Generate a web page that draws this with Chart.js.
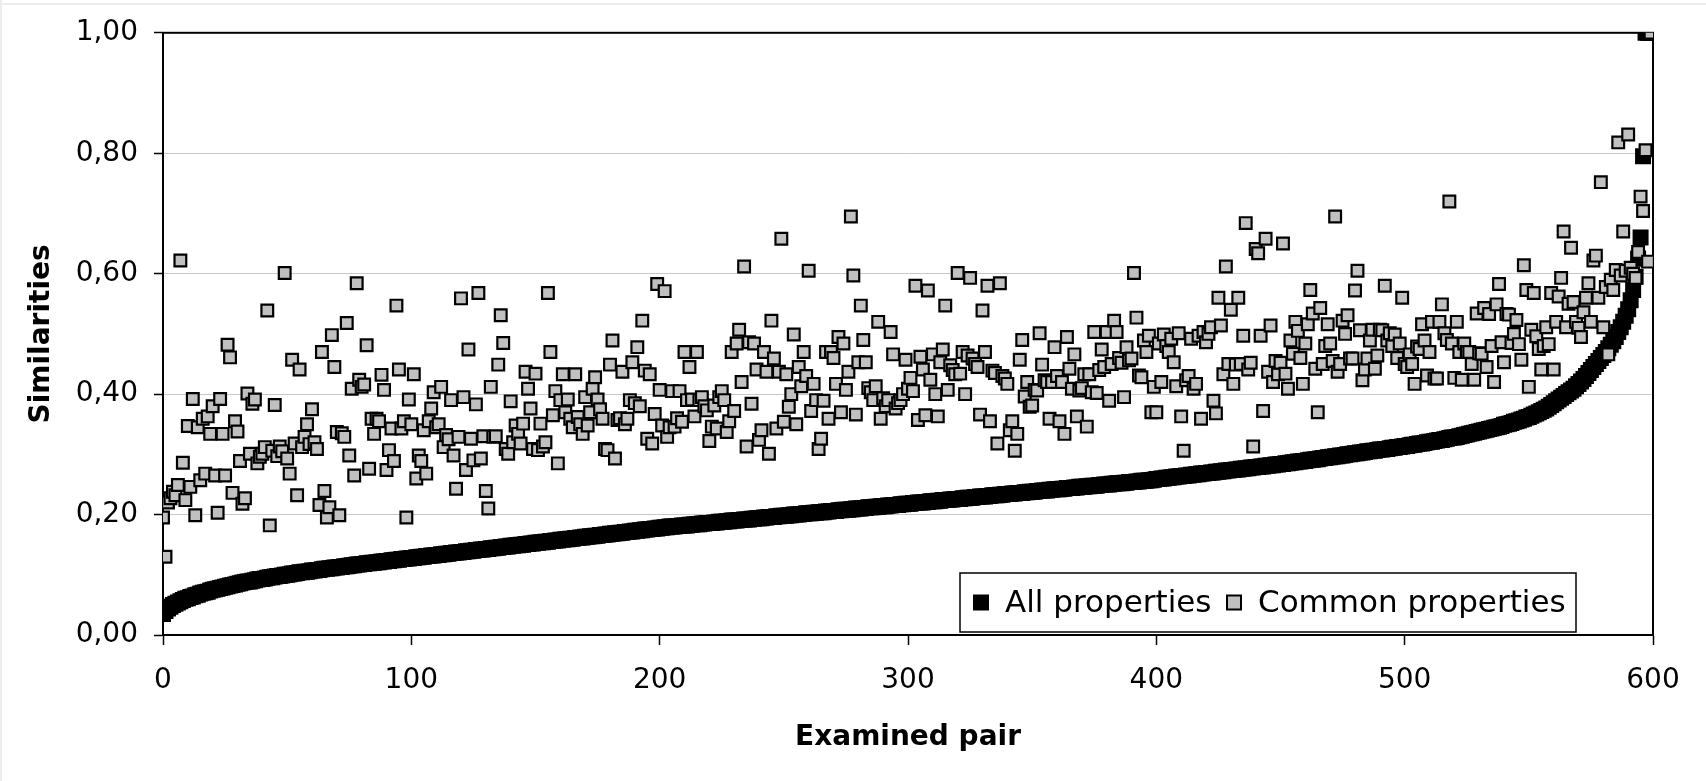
<!DOCTYPE html>
<html lang="en">
<head>
<meta charset="UTF-8" />
<title>Similarities per examined pair</title>
<style>
  body { margin: 0; background: #fff; }
  #wrap { width: 1706px; height: 781px; }
</style>
</head>
<body>
<div id="wrap"><canvas id="simChart" width="1706" height="781"></canvas></div>
<script src="https://cdn.jsdelivr.net/npm/chart.js"></script>
<script>
const seriesNames = ["All properties", "Common properties"];
const xTicks = [0, 100, 200, 300, 400, 500, 600];
const yTicks = [0, 0.2, 0.4, 0.6, 0.8, 1.0];

// similarity over all properties, one value per examined pair (sorted)
const allProps = [
  0.035, 0.040, 0.044, 0.047, 0.050, 0.052, 0.054, 0.056, 0.058, 0.060,
  0.061, 0.063, 0.064, 0.066, 0.067, 0.069, 0.070, 0.071, 0.072, 0.074,
  0.075, 0.076, 0.077, 0.078, 0.079, 0.080, 0.081, 0.082, 0.083, 0.084,
  0.085, 0.086, 0.087, 0.088, 0.089, 0.089, 0.090, 0.091, 0.092, 0.093,
  0.093, 0.094, 0.095, 0.096, 0.096, 0.097, 0.098, 0.098, 0.099, 0.100,
  0.100, 0.101, 0.102, 0.102, 0.103, 0.104, 0.104, 0.105, 0.105, 0.106,
  0.107, 0.107, 0.108, 0.108, 0.109, 0.110, 0.110, 0.111, 0.111, 0.112,
  0.112, 0.113, 0.113, 0.114, 0.114, 0.115, 0.116, 0.116, 0.117, 0.117,
  0.118, 0.118, 0.119, 0.119, 0.120, 0.120, 0.121, 0.121, 0.122, 0.122,
  0.123, 0.123, 0.124, 0.124, 0.125, 0.125, 0.126, 0.126, 0.127, 0.127,
  0.128, 0.128, 0.129, 0.129, 0.130, 0.130, 0.131, 0.131, 0.132, 0.132,
  0.133, 0.133, 0.134, 0.134, 0.135, 0.135, 0.136, 0.136, 0.137, 0.137,
  0.138, 0.138, 0.139, 0.139, 0.140, 0.140, 0.141, 0.141, 0.142, 0.142,
  0.143, 0.143, 0.144, 0.144, 0.145, 0.145, 0.146, 0.146, 0.147, 0.147,
  0.148, 0.148, 0.149, 0.149, 0.150, 0.150, 0.151, 0.151, 0.152, 0.152,
  0.153, 0.153, 0.154, 0.154, 0.155, 0.155, 0.156, 0.156, 0.157, 0.157,
  0.158, 0.158, 0.159, 0.159, 0.160, 0.160, 0.161, 0.161, 0.162, 0.162,
  0.163, 0.163, 0.164, 0.164, 0.165, 0.165, 0.166, 0.166, 0.167, 0.167,
  0.168, 0.168, 0.169, 0.169, 0.170, 0.170, 0.171, 0.171, 0.172, 0.172,
  0.173, 0.173, 0.174, 0.174, 0.175, 0.175, 0.176, 0.176, 0.177, 0.177,
  0.178, 0.178, 0.179, 0.179, 0.180, 0.180, 0.180, 0.181, 0.181, 0.182,
  0.182, 0.182, 0.183, 0.183, 0.184, 0.184, 0.184, 0.185, 0.185, 0.186,
  0.186, 0.186, 0.187, 0.187, 0.188, 0.188, 0.188, 0.189, 0.189, 0.190,
  0.190, 0.190, 0.191, 0.191, 0.192, 0.192, 0.192, 0.193, 0.193, 0.194,
  0.194, 0.194, 0.195, 0.195, 0.196, 0.196, 0.196, 0.197, 0.197, 0.198,
  0.198, 0.198, 0.199, 0.199, 0.200, 0.200, 0.200, 0.201, 0.201, 0.202,
  0.202, 0.202, 0.203, 0.203, 0.204, 0.204, 0.204, 0.205, 0.205, 0.206,
  0.206, 0.206, 0.207, 0.207, 0.208, 0.208, 0.208, 0.209, 0.209, 0.210,
  0.210, 0.210, 0.211, 0.211, 0.212, 0.212, 0.212, 0.213, 0.213, 0.214,
  0.214, 0.214, 0.215, 0.215, 0.216, 0.216, 0.216, 0.217, 0.217, 0.218,
  0.218, 0.218, 0.219, 0.219, 0.220, 0.220, 0.220, 0.221, 0.221, 0.222,
  0.222, 0.222, 0.223, 0.223, 0.224, 0.224, 0.224, 0.225, 0.225, 0.226,
  0.226, 0.226, 0.227, 0.227, 0.228, 0.228, 0.228, 0.229, 0.229, 0.230,
  0.230, 0.230, 0.231, 0.231, 0.232, 0.232, 0.232, 0.233, 0.233, 0.234,
  0.234, 0.234, 0.235, 0.235, 0.236, 0.236, 0.236, 0.237, 0.237, 0.238,
  0.238, 0.238, 0.239, 0.239, 0.240, 0.240, 0.240, 0.241, 0.241, 0.242,
  0.242, 0.242, 0.243, 0.243, 0.244, 0.244, 0.244, 0.245, 0.245, 0.246,
  0.246, 0.246, 0.247, 0.247, 0.248, 0.248, 0.248, 0.249, 0.249, 0.250,
  0.250, 0.250, 0.251, 0.251, 0.252, 0.252, 0.252, 0.253, 0.253, 0.254,
  0.254, 0.254, 0.255, 0.255, 0.256, 0.256, 0.256, 0.257, 0.257, 0.258,
  0.259, 0.259, 0.260, 0.260, 0.261, 0.261, 0.262, 0.262, 0.263, 0.263,
  0.264, 0.264, 0.265, 0.265, 0.266, 0.266, 0.267, 0.267, 0.268, 0.268,
  0.269, 0.269, 0.270, 0.270, 0.271, 0.271, 0.272, 0.272, 0.273, 0.273,
  0.274, 0.274, 0.275, 0.275, 0.276, 0.276, 0.277, 0.277, 0.278, 0.278,
  0.279, 0.279, 0.280, 0.280, 0.281, 0.281, 0.282, 0.282, 0.283, 0.283,
  0.284, 0.284, 0.285, 0.285, 0.286, 0.287, 0.287, 0.288, 0.288, 0.289,
  0.289, 0.290, 0.291, 0.291, 0.292, 0.292, 0.293, 0.294, 0.294, 0.295,
  0.295, 0.296, 0.297, 0.297, 0.298, 0.298, 0.299, 0.300, 0.300, 0.301,
  0.302, 0.302, 0.303, 0.303, 0.304, 0.305, 0.305, 0.306, 0.306, 0.307,
  0.308, 0.308, 0.309, 0.309, 0.310, 0.311, 0.311, 0.312, 0.312, 0.313,
  0.314, 0.314, 0.315, 0.316, 0.316, 0.317, 0.318, 0.318, 0.319, 0.320,
  0.321, 0.321, 0.322, 0.323, 0.324, 0.324, 0.325, 0.326, 0.327, 0.328,
  0.328, 0.329, 0.330, 0.331, 0.332, 0.333, 0.334, 0.335, 0.336, 0.337,
  0.338, 0.339, 0.340, 0.341, 0.342, 0.343, 0.344, 0.345, 0.346, 0.347,
  0.349, 0.350, 0.351, 0.352, 0.354, 0.355, 0.356, 0.358, 0.359, 0.361,
  0.362, 0.364, 0.366, 0.368, 0.370, 0.372, 0.374, 0.376, 0.379, 0.382,
  0.385, 0.388, 0.391, 0.394, 0.397, 0.400, 0.403, 0.406, 0.409, 0.413,
  0.417, 0.421, 0.425, 0.430, 0.435, 0.440, 0.445, 0.450, 0.455, 0.460,
  0.465, 0.470, 0.476, 0.482, 0.488, 0.495, 0.503, 0.511, 0.520, 0.530,
  0.541, 0.556, 0.573, 0.595, 0.625, 0.660, 0.795, 1.000, 1.000, 1.000
];

// similarity over common properties, same pairs
const commonProps = [
  0.195, 0.130, 0.220, 0.227, 0.238, 0.232, 0.249, 0.622, 0.286, 0.224,
  0.347, 0.246, 0.392, 0.199, 0.345, 0.257, 0.359, 0.268, 0.363, 0.334,
  0.380, 0.265, 0.203, 0.392, 0.334, 0.265, 0.482, 0.461, 0.236, 0.355,
  0.338, 0.289, 0.218, 0.227, 0.401, 0.301, 0.384, 0.391, 0.285, 0.296,
  0.301, 0.312, 0.539, 0.182, 0.306, 0.382, 0.297, 0.313, 0.305, 0.601,
  0.293, 0.268, 0.457, 0.318, 0.232, 0.441, 0.312, 0.329, 0.350, 0.317,
  0.375, 0.320, 0.309, 0.216, 0.470, 0.239, 0.195, 0.212, 0.498, 0.445,
  0.337, 0.199, 0.335, 0.329, 0.518, 0.298, 0.409, 0.265, 0.584, 0.424,
  0.412, 0.416, 0.481, 0.276, 0.359, 0.334, 0.359, 0.355, 0.432, 0.407,
  0.274, 0.307, 0.343, 0.289, 0.547, 0.441, 0.343, 0.355, 0.195, 0.391,
  0.350, 0.433, 0.260, 0.298, 0.289, 0.340, 0.268, 0.355, 0.376, 0.403,
  0.345, 0.350, 0.412, 0.312, 0.332, 0.325, 0.390, 0.298, 0.243, 0.329,
  0.559, 0.395, 0.274, 0.474, 0.326, 0.290, 0.383, 0.568, 0.293, 0.330,
  0.239, 0.210, 0.412, 0.329, 0.330, 0.449, 0.531, 0.485, 0.309, 0.301,
  0.388, 0.320, 0.348, 0.334, 0.318, 0.351, 0.437, 0.409, 0.376, 0.309,
  0.434, 0.307, 0.351, 0.313, 0.320, 0.568, 0.470, 0.365, 0.405, 0.285,
  0.390, 0.433, 0.370, 0.391, 0.359, 0.345, 0.433, 0.362, 0.350, 0.334,
  0.395, 0.348, 0.370, 0.409, 0.428, 0.391, 0.375, 0.359, 0.309, 0.307,
  0.449, 0.489, 0.293, 0.357, 0.360, 0.437, 0.350, 0.359, 0.390, 0.453,
  0.385, 0.478, 0.380, 0.522, 0.439, 0.326, 0.433, 0.318, 0.367, 0.583,
  0.407, 0.348, 0.571, 0.329, 0.345, 0.405, 0.346, 0.360, 0.405, 0.354,
  0.470, 0.390, 0.445, 0.391, 0.363, 0.470, 0.390, 0.395, 0.380, 0.373,
  0.322, 0.346, 0.381, 0.343, 0.395, 0.405, 0.390, 0.337, 0.355, 0.470,
  0.372, 0.484, 0.507, 0.420, 0.612, 0.313, 0.486, 0.384, 0.484, 0.441,
  0.324, 0.340, 0.470, 0.437, 0.301, 0.522, 0.459, 0.343, 0.437, 0.658,
  0.354, 0.433, 0.379, 0.400, 0.499, 0.350, 0.445, 0.413, 0.470, 0.430,
  0.605, 0.372, 0.417, 0.390, 0.309, 0.326, 0.389, 0.470, 0.359, 0.470,
  0.460, 0.417, 0.495, 0.370, 0.484, 0.407, 0.437, 0.695, 0.597, 0.366,
  0.453, 0.547, 0.490, 0.453, 0.410, 0.403, 0.390, 0.413, 0.520, 0.359,
  0.393, 0.380, 0.390, 0.503, 0.466, 0.376, 0.385, 0.390, 0.400, 0.457,
  0.409, 0.427, 0.405, 0.580, 0.357, 0.462, 0.441, 0.365, 0.572, 0.424,
  0.466, 0.400, 0.363, 0.453, 0.474, 0.547, 0.407, 0.448, 0.440, 0.433,
  0.601, 0.434, 0.470, 0.400, 0.464, 0.593, 0.459, 0.450, 0.445, 0.366,
  0.539, 0.470, 0.580, 0.355, 0.439, 0.435, 0.318, 0.584, 0.430, 0.426,
  0.417, 0.340, 0.355, 0.306, 0.334, 0.457, 0.490, 0.396, 0.420, 0.379,
  0.381, 0.407, 0.406, 0.501, 0.449, 0.423, 0.420, 0.359, 0.420, 0.478,
  0.430, 0.355, 0.420, 0.334, 0.495, 0.442, 0.409, 0.466, 0.363, 0.406,
  0.410, 0.433, 0.346, 0.433, 0.403, 0.503, 0.402, 0.440, 0.474, 0.445,
  0.503, 0.389, 0.450, 0.522, 0.503, 0.460, 0.452, 0.395, 0.478, 0.456,
  0.459, 0.601, 0.527, 0.431, 0.428, 0.489, 0.470, 0.497, 0.370, 0.412,
  0.370, 0.484, 0.420, 0.499, 0.480, 0.470, 0.492, 0.453, 0.413, 0.501,
  0.363, 0.306, 0.423, 0.430, 0.492, 0.409, 0.417, 0.497, 0.359, 0.503,
  0.486, 0.500, 0.511, 0.389, 0.368, 0.560, 0.514, 0.433, 0.612, 0.450,
  0.540, 0.417, 0.449, 0.560, 0.450, 0.497, 0.684, 0.441, 0.452, 0.313,
  0.641, 0.634, 0.497, 0.372, 0.658, 0.437, 0.514, 0.420, 0.455, 0.433,
  0.452, 0.650, 0.434, 0.409, 0.489, 0.467, 0.520, 0.505, 0.460, 0.417,
  0.484, 0.516, 0.573, 0.534, 0.442, 0.370, 0.543, 0.450, 0.480, 0.516,
  0.484, 0.455, 0.695, 0.437, 0.450, 0.522, 0.500, 0.531, 0.459, 0.459,
  0.572, 0.605, 0.506, 0.423, 0.441, 0.459, 0.489, 0.507, 0.442, 0.464,
  0.507, 0.506, 0.580, 0.489, 0.501, 0.480, 0.499, 0.460, 0.484, 0.560,
  0.450, 0.445, 0.466, 0.450, 0.417, 0.479, 0.475, 0.516, 0.489, 0.431,
  0.470, 0.520, 0.426, 0.426, 0.520, 0.549, 0.501, 0.490, 0.720, 0.484,
  0.427, 0.520, 0.470, 0.424, 0.484, 0.470, 0.470, 0.450, 0.424, 0.534,
  0.468, 0.467, 0.543, 0.445, 0.533, 0.480, 0.420, 0.549, 0.583, 0.486,
  0.453, 0.533, 0.532, 0.485, 0.500, 0.523, 0.483, 0.457, 0.614, 0.573,
  0.412, 0.507, 0.568, 0.496, 0.475, 0.441, 0.480, 0.511, 0.483, 0.568,
  0.441, 0.520, 0.562, 0.593, 0.670, 0.511, 0.550, 0.643, 0.553, 0.520,
  0.510, 0.495, 0.536, 0.560, 0.584, 0.520, 0.622, 0.630, 0.560, 0.752,
  0.511, 0.578, 0.466, 0.590, 0.573, 0.606, 0.818, 0.597, 0.670, 0.605,
  0.831, 0.610, 0.600, 0.593, 0.636, 0.728, 0.704, 0.805, 0.620, 1.000
];

const toPoints = (arr) => arr.map((v, i) => ({ x: i, y: v }));
const commaFmt = (v) => Number(v).toFixed(2).replace(".", ",");

// faint picture edge at top/left, plus black frame round the plot area
const plotFrame = {
  id: "plotFrame",
  beforeDraw(chart) {
    const { ctx } = chart;
    ctx.save();
    ctx.fillStyle = "#ededed";
    ctx.fillRect(0, 3, chart.width, 2);
    ctx.fillRect(0, 0, 2, chart.height);
    ctx.restore();
  },
  beforeDatasetsDraw(chart) {
    const { ctx, chartArea: a } = chart;
    ctx.save();
    ctx.strokeStyle = "#000";
    ctx.lineWidth = 2;
    ctx.strokeRect(a.left, a.top, a.right - a.left, a.bottom - a.top);
    ctx.restore();
  },
};

// legend box sitting inside the plot, bottom right
const boxLegend = {
  id: "boxLegend",
  afterDatasetsDraw(chart) {
    const { ctx, chartArea: a } = chart;
    const left = a.right - 693;
    const top = a.bottom - 62;
    const w = 616, h = 59;
    ctx.save();
    ctx.fillStyle = "#fff";
    ctx.fillRect(left, top, w, h);
    ctx.strokeStyle = "#000";
    ctx.lineWidth = 1.5;
    ctx.strokeRect(left, top, w, h);
    const midY = top + h / 2;
    const slots = [{ mark: 21, text: 45 }, { mark: 274, text: 298 }];
    ctx.font = '31px "DejaVu Sans"';
    ctx.textBaseline = "middle";
    chart.data.datasets.forEach((ds, i) => {
      const s = slots[i];
      ctx.fillStyle = ds.backgroundColor;
      ctx.fillRect(left + s.mark - 7, midY - 7, 14, 14);
      ctx.strokeStyle = "#000";
      ctx.lineWidth = 2;
      ctx.strokeRect(left + s.mark - 7, midY - 7, 14, 14);
      ctx.fillStyle = "#000";
      ctx.fillText(ds.label, left + s.text, midY + 1);
    });
    ctx.restore();
  },
};

const tickFont = { family: "DejaVu Sans", size: 28 };
const titleFont = { family: "DejaVu Sans", size: 28, weight: "bold" };

new Chart(document.getElementById("simChart"), {
  type: "scatter",
  data: {
    datasets: [
      {
        label: seriesNames[0],
        data: toPoints(allProps),
        backgroundColor: "#000",
        borderColor: "#000",
        borderWidth: 2,
        pointStyle: "rect",
        pointRadius: 9.9,
        order: 1,
      },
      {
        label: seriesNames[1],
        data: toPoints(commonProps),
        backgroundColor: "#c0c0c0",
        borderColor: "#000",
        borderWidth: 2.2,
        pointStyle: "rect",
        pointRadius: 8.3,
        order: 0,
      },
    ],
  },
  options: {
    responsive: false,
    animation: false,
    layout: { padding: { top: 32, right: 53, left: 0, bottom: 0 } },
    plugins: {
      legend: { display: false },
      tooltip: { enabled: false },
    },
    scales: {
      x: {
        type: "linear",
        min: xTicks[0],
        max: xTicks[xTicks.length - 1],
        afterBuildTicks: (scale) => {
          scale.ticks = xTicks.map((v) => ({ value: v }));
        },
        afterFit: (scale) => {
          scale.height = 146;
        },
        grid: {
          drawOnChartArea: false,
          tickLength: 10,
          tickColor: "#000",
          tickWidth: 1.5,
        },
        border: { color: "#000", width: 2 },
        ticks: { font: tickFont, color: "#000", padding: 19, maxRotation: 0 },
        title: {
          display: true,
          text: "Examined pair",
          font: titleFont,
          color: "#000",
          padding: { top: 0, bottom: 26 },
        },
      },
      y: {
        type: "linear",
        min: yTicks[0],
        max: yTicks[yTicks.length - 1],
        afterBuildTicks: (scale) => {
          scale.ticks = yTicks.map((v) => ({ value: v }));
        },
        afterFit: (scale) => {
          scale.width = 163;
        },
        grid: {
          color: "#c8c8c8",
          lineWidth: 1,
          tickLength: 9,
          tickColor: "#000",
          tickWidth: 1.5,
        },
        border: { color: "#000", width: 2 },
        ticks: {
          font: tickFont,
          color: "#000",
          padding: 16,
          callback: (v) => commaFmt(v),
        },
        title: {
          display: true,
          text: "Similarities",
          font: titleFont,
          color: "#000",
          padding: { top: 25, bottom: 0 },
        },
      },
    },
  },
  plugins: [plotFrame, boxLegend],
});
</script>
</body>
</html>
